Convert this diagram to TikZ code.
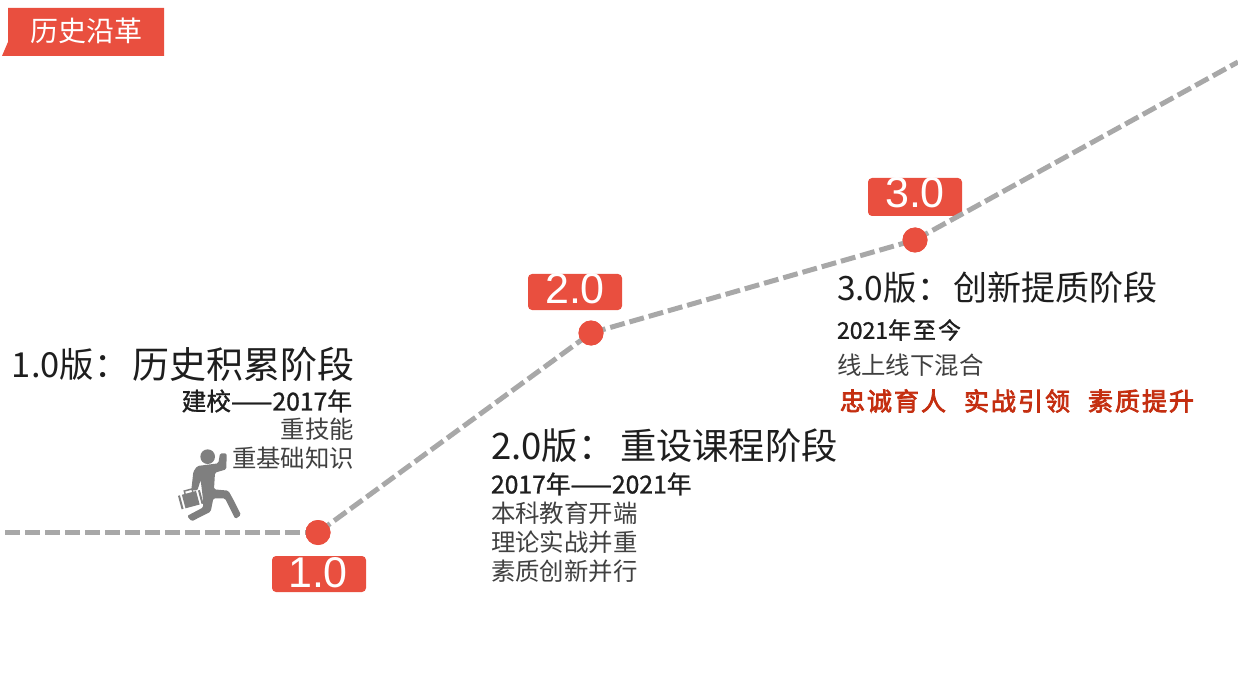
\documentclass[tikz,border=0pt]{standalone}
\usepackage{fontspec}
\setmainfont{Noto Sans CJK SC}
\newfontfamily\latinf{Liberation Sans}
\newfontfamily\boldcjk[AutoFakeBold=1.2]{Noto Sans CJK SC}
\newfontfamily\redcjk[AutoFakeBold=3,LetterSpace=8]{Noto Sans CJK SC}
\definecolor{tagred}{HTML}{E94F3F}
\definecolor{dashgrey}{HTML}{A8A8A8}
\definecolor{txt}{HTML}{1E1E1E}
\definecolor{brush}{HTML}{C42E10}
\definecolor{runner}{HTML}{7F7F7F}
\tikzset{
  x=1pt,y=-1pt,
  every node/.style={inner sep=0pt,outer sep=0pt},
  dashline/.style={draw=dashgrey,line width=5pt,dash pattern=on 15pt off 5pt},
  dot/.style={circle,fill=tagred,minimum size=25pt},
  badge/.style={rectangle,fill=tagred,rounded corners=4pt,minimum width=94pt},
  badgetext/.style={anchor=base,text=white,font=\latinf\fontsize{43}{43}\selectfont},
  head/.style={text=txt,anchor=west,font=\fontsize{#1}{#1}\selectfont},
  date/.style={text=txt,font=\boldcjk\fontsize{24.7}{25}\selectfont\bfseries},
  body/.style={text=txt!85!white,font=\fontsize{24.4}{25}\selectfont}
}
\begin{document}
\begin{tikzpicture}
\useasboundingbox (0,0) rectangle (1238,692);
% tag
\fill[tagred] (8,8) -- (164,8) -- (164,56) -- (2,56) -- (8,42) -- cycle;
\node[text=white,font=\fontsize{28}{28}\selectfont] (tag) at (86,31) {历史沿革};
% badges
\node[badge,minimum height=36pt] (b1) at (319,574) {};
\node[badge,minimum height=36pt] (b2) at (575,292) {};
\node[badge,minimum height=38pt] (b3) at (915,197) {};
\node[badgetext] (t1) at (318,587) {1.0};
\node[badgetext] (t2) at (575,303) {2.0};
\node[badgetext] (t3) at (915,208) {3.0};
% dots (named for the connectors)
\node[dot] (d1) at (318,532.5) {};
\node[dot] (d2) at (591,333) {};
\node[dot] (d3) at (915,240) {};
\coordinate (start) at (5,532.5);
\coordinate (end) at (1238,62);
\draw[dashline] (start) -- (d1.center);
\draw[dashline] (d1.center) -- (d2.center);
\draw[dashline] (d2.center) -- (d3.center);
\draw[dashline] (d3.center) -- (end);
\node[dot] at (d1.center) {};
\node[dot] at (d2.center) {};
\node[dot] at (d3.center) {};
% runner, in the coordinates of a 3x crop
\begin{scope}[shift={(160,430)},xscale=1/3,yscale=1/3]
\fill[runner] (143,80) circle (22);
\fill[runner,rounded corners=1.5pt] (112,108) -- (175,100) -- (180,70) -- (200,70) -- (199,118) -- (165,128) -- (162,178) -- (205,182) -- (218,205) -- (243,255) -- (226,267) -- (195,205) -- (160,205) -- (152,245) -- (95,274) -- (81,258) -- (130,232) -- (128,200) -- (122,150) -- (112,182) -- (94,180) -- (100,125) -- cycle;
\begin{scope}[rotate around={15:(92,208)}]
\fill[runner] (58,188) rectangle (64,230);
\fill[runner] (70,188) rectangle (114,230);
\fill[runner] (120,188) rectangle (126,230);
\draw[runner,line width=1.5pt] (80,188) -- (80,179) -- (104,179) -- (104,188);
\end{scope}
\end{scope}
% 1.0
\node[head=34.5] (h1) at (12,364) {1.0版：};
\node[head=37] (m1) at (132,364) {历史积累阶段};
\node[date,anchor=east] (y1) at (352,401) {建校——2017年};
\node[body,anchor=east] (a1) at (354,429) {重技能};
\node[body,anchor=east] (a2) at (354,458) {重基础知识};
% 2.0
\node[head=36.5] (h2) at (491,446) {2.0版：};
\node[head=36.3] (m2) at (620,446) {重设课程阶段};
\node[date,anchor=west] (y2) at (491,484) {2017年——2021年};
\node[body,anchor=west] (b21) at (491,513) {本科教育开端};
\node[body,anchor=west] (b22) at (491,542) {理论实战并重};
\node[body,anchor=west] (b23) at (491,571) {素质创新并行};
% 3.0
\node[head=33.5] (h3) at (837,288) {3.0版：};
\node[head=34] (m3) at (953,288) {创新提质阶段};
\node[date,anchor=west,font=\boldcjk\fontsize{23}{23}\selectfont\bfseries] (y3) at (837,330) {2021年\hspace{2pt}至\hspace{2pt}今};
\node[body,anchor=west] (c1) at (837,365) {线上线下混合};
\node[anchor=west,text=brush,font=\redcjk\fontsize{25}{25}\selectfont\bfseries] (c2) at (840,401) {忠诚育人\hspace{18pt}实战引领\hspace{18pt}素质提升};
\end{tikzpicture}
\end{document}
